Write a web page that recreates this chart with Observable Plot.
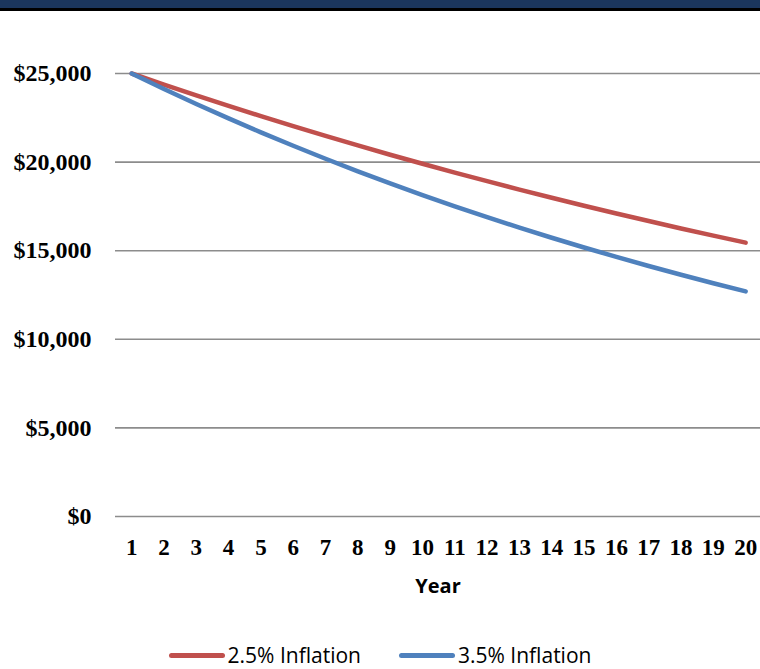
<!DOCTYPE html>
<html>
<head>
<meta charset="utf-8">
<script src="https://cdn.jsdelivr.net/npm/d3@7"></script>
<script src="https://cdn.jsdelivr.net/npm/@observablehq/plot@0.6"></script>
<style>
  html, body { margin: 0; padding: 0; background: #fff; overflow: hidden; }
  #topbar { height: 8px; background: #1b365d; border-bottom: 3px solid #000; }
  #chart svg { display: block; }
  #legend { height: 26px; padding-top: 11px; display: flex; justify-content: center; align-items: center;
    font-family: "Open Sans", sans-serif; font-size: 21px; line-height: 1; color: #000; gap: 38px; }
  .item { display: flex; align-items: center; line-height: 1; }
  .swatch { width: 56px; height: 5px; border-radius: 3px; margin-right: 3px; }
</style>
</head>
<body>
<div id="topbar"></div>
<div id="chart"></div>
<div id="legend"></div>
<script>
const years = [1,2,3,4,5,6,7,8,9,10,11,12,13,14,15,16,17,18,19,20];
const inflation25 = [25000,24375,23766,23172,22592,22027,21477,20940,20416,19906,19408,18923,18450,17989,17539,17100,16673,16256,15850,15453];
const inflation35 = [25000,24125,23281,22466,21680,20921,20189,19482,18800,18142,17507,16894,16303,15732,15182,14650,14138,13643,13165,12705];
const seriesNames = ["2.5% Inflation", "3.5% Inflation"];
const seriesColors = ["#c0504d", "#4f81bd"];
const yTicks = [0, 5000, 10000, 15000, 20000, 25000];

const data = [];
years.forEach((y, i) => {
  data.push({year: y, value: inflation25[i], series: seriesNames[0]});
  data.push({year: y, value: inflation35[i], series: seriesNames[1]});
});

const chart = Plot.plot({
  width: 760,
  height: 620,
  marginLeft: 115,
  marginRight: 0,
  marginTop: 62,
  marginBottom: 115,
  x: {domain: [0.5, 20.46]},
  y: {domain: [0, 25000]},
  color: {domain: seriesNames, range: seriesColors},
  marks: [
    Plot.ruleY(yTicks, {stroke: "#8c8c8c", strokeWidth: 1.6}),
    Plot.axisY(yTicks, {tickSize: 0, tickPadding: 24, tickFormat: d3.format("$,"),
      fontFamily: "Liberation Serif, serif", fontWeight: "bold", fontSize: 24, fill: "#000", label: null}),
    Plot.axisX(years, {tickSize: 0, tickPadding: 22, anchor: "bottom",
      fontFamily: "Liberation Serif, serif", fontWeight: "bold", fontSize: 23, fill: "#000", label: null}),
    Plot.text(["Year"], {frameAnchor: "bottom", dy: 76, fontFamily: "Open Sans, sans-serif",
      fontWeight: "bold", fontSize: 20, fill: "#000"}),
    Plot.line(data, {x: "year", y: "value", z: "series", stroke: "series",
      strokeWidth: 4.5, strokeLinecap: "round", strokeLinejoin: "round"})
  ]
});
document.getElementById("chart").appendChild(chart);

const legend = document.getElementById("legend");
seriesNames.forEach((name, i) => {
  const item = document.createElement("div");
  item.className = "item";
  const sw = document.createElement("div");
  sw.className = "swatch";
  sw.style.background = seriesColors[i];
  const label = document.createElement("span");
  label.textContent = name;
  item.appendChild(sw);
  item.appendChild(label);
  legend.appendChild(item);
});
</script>
</body>
</html>
